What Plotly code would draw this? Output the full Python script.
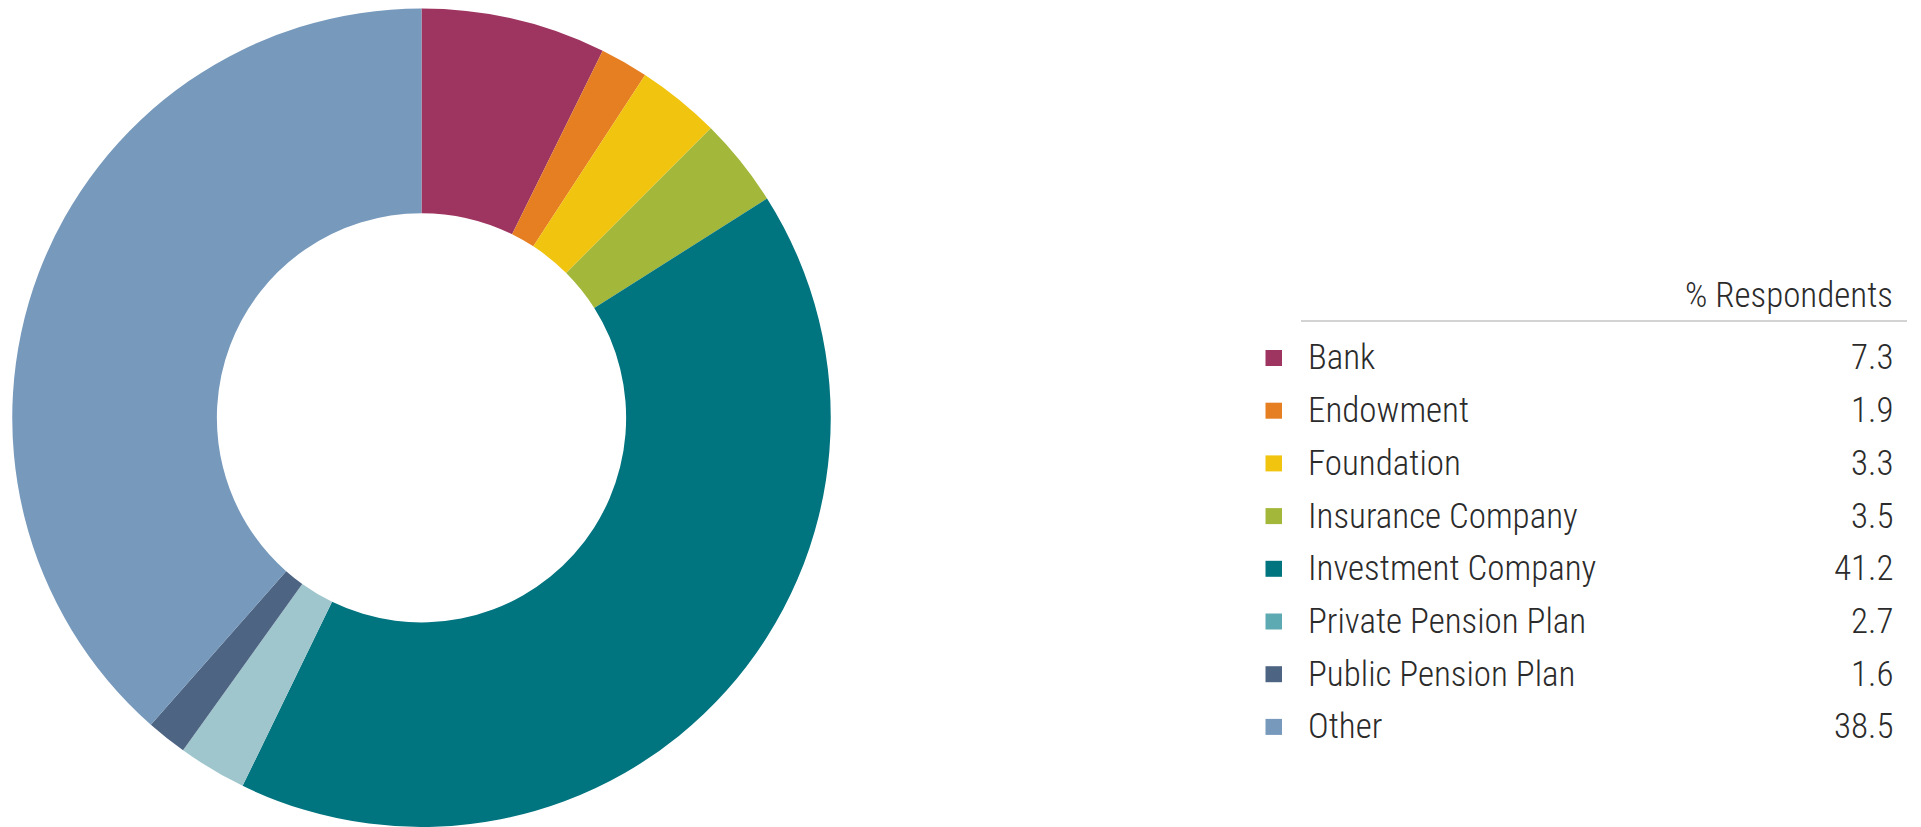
import plotly.graph_objects as go

# Respondent categories and share of respondents (%)
categories = ["Bank", "Endowment", "Foundation", "Insurance Company",
              "Investment Company", "Private Pension Plan", "Public Pension Plan", "Other"]
values = [7.3, 1.9, 3.3, 3.5, 41.2, 2.7, 1.6, 38.5]
value_labels = ["7.3", "1.9", "3.3", "3.5", "41.2", "2.7", "1.6", "38.5"]
slice_colors = ["#9E3560", "#E67E22", "#F1C40F", "#A3B83A",
                "#00747F", "#9FC6CD", "#4E6483", "#7699BC"]
swatch_colors = ["#9E3560", "#E67E22", "#F1C40F", "#A3B83A",
                 "#00747F", "#5EAAB3", "#4E6483", "#7699BC"]
column_title = "% Respondents"

W, H = 1921, 827
FONT = "Roboto Condensed, Liberation Sans Narrow, sans-serif"
FONT_SIZE = 35
TEXT_COLOR = "#2b2b2b"


def px(x):
    return x / W


def py(y):
    return 1 - y / H


fig = go.Figure(go.Pie(
    labels=categories,
    values=values,
    hole=0.5,
    sort=False,
    direction="clockwise",
    rotation=0,
    marker=dict(colors=slice_colors, line=dict(width=0)),
    textinfo="none",
    hoverinfo="label+value",
    showlegend=False,
    domain=dict(x=[px(12), px(831)], y=[py(827), py(8.5)]),
))

shapes = []
annotations = []
text_font = dict(family=FONT, size=FONT_SIZE, color=TEXT_COLOR, weight=300)

# Column header and rule
annotations.append(dict(
    x=px(1895), y=py(295), xref="paper", yref="paper",
    xanchor="right", yanchor="middle", text=column_title, showarrow=False,
    font=text_font,
))
shapes.append(dict(
    type="line", xref="paper", yref="paper",
    x0=px(1301), x1=px(1907), y0=py(321), y1=py(321),
    line=dict(color="#a8a8a8", width=1.2),
))

# Table-style legend rows
row0, step = 358, 52.7
for i, (name, label, color) in enumerate(zip(categories, value_labels, swatch_colors)):
    yc = row0 + i * step
    shapes.append(dict(
        type="rect", xref="paper", yref="paper",
        x0=px(1265.5), x1=px(1282), y0=py(yc - 8), y1=py(yc + 8),
        fillcolor=color, line=dict(width=0),
    ))
    annotations.append(dict(
        x=px(1306), y=py(yc), xref="paper", yref="paper",
        xanchor="left", yanchor="middle", text=name, showarrow=False,
        font=text_font,
    ))
    annotations.append(dict(
        x=px(1895), y=py(yc), xref="paper", yref="paper",
        xanchor="right", yanchor="middle", text=label, showarrow=False,
        font=text_font,
    ))

fig.update_layout(
    width=W, height=H,
    margin=dict(l=0, r=0, t=0, b=0),
    paper_bgcolor="white",
    plot_bgcolor="white",
    shapes=shapes,
    annotations=annotations,
)

fig.write_html("out.html")
